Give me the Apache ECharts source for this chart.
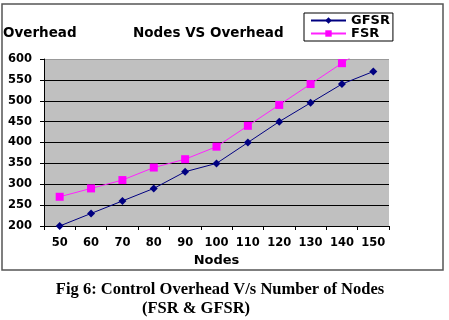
<!DOCTYPE html>
<html>
<head>
<meta charset="utf-8">
<script src="https://cdn.jsdelivr.net/npm/echarts@6/dist/echarts.min.js"></script>
<style>
html,body{margin:0;padding:0;background:#fff;}
#c{width:449px;height:320px;}
</style>
</head>
<body>
<div id="c"></div>
<script>
var nodes = ['50','60','70','80','90','100','110','120','130','140','150'];
var gfsr = [200, 230, 260, 290, 330, 350, 400, 450, 495, 540, 570];
var fsr = [270, 290, 310, 340, 360, 390, 440, 490, 540, 590, 640];
var chartTitle = 'Nodes VS Overhead';
var yName = 'Overhead';
var xName = 'Nodes';
var caption1 = 'Fig 6: Control Overhead V/s Number of Nodes';
var caption2 = '(FSR & GFSR)';

var FONT = 'DejaVu Sans';
var chart = echarts.init(document.getElementById('c'), null, {renderer: 'canvas'});
chart.setOption({
  backgroundColor: '#fff',
  animation: false,
  title: {
    text: chartTitle, left: 133, top: 26, padding: 0,
    textStyle: {fontFamily: FONT, fontWeight: 'bold', fontSize: 13.5, color: '#000'}
  },
  legend: {
    left: 304, top: 13, orient: 'vertical',
    padding: [1, 3, 1, 6], itemGap: 0,
    itemWidth: 35, itemHeight: 8,
    borderColor: '#000', borderWidth: 1,
    textStyle: {fontFamily: FONT, fontWeight: 'bold', fontSize: 13, color: '#000', lineHeight: 12}
  },
  grid: {
    left: 44, right: 60, top: 59, bottom: 94,
    show: true, backgroundColor: '#c0c0c0', borderWidth: 0
  },
  xAxis: {
    type: 'category', data: nodes, boundaryGap: true,
    name: xName, nameLocation: 'middle', nameGap: 26,
    nameTextStyle: {fontFamily: FONT, fontWeight: 'bold', fontSize: 13, color: '#000'},
    axisLine: {lineStyle: {color: '#000', width: 1}},
    axisTick: {show: true, length: 4, alignWithLabel: false, lineStyle: {color: '#000'}},
    axisLabel: {margin: 11, interval: 0, fontFamily: FONT, fontWeight: 'bold', fontSize: 11.5, color: '#000'},
    splitLine: {show: false}
  },
  yAxis: {
    type: 'value', min: 200, max: 600, interval: 50,
    axisLine: {show: true, lineStyle: {color: '#000', width: 1}},
    axisTick: {show: true, length: 4, lineStyle: {color: '#000'}},
    axisLabel: {margin: 12, fontFamily: FONT, fontWeight: 'bold', fontSize: 11.5, color: '#000'},
    splitLine: {show: true, lineStyle: {color: ['#000','#000','#000','#000','#000','#000','#000','#000','#999'], width: 1}}
  },
  series: [
    {
      name: 'GFSR', type: 'line', data: gfsr, clip: true,
      symbol: 'diamond', symbolSize: 8,
      itemStyle: {color: '#000080'},
      lineStyle: {color: '#000080', width: 1}
    },
    {
      name: 'FSR', type: 'line', data: fsr, clip: true,
      symbol: 'rect', symbolSize: 8,
      itemStyle: {color: '#ff00ff'},
      lineStyle: {color: '#ff22ff', width: 1}
    }
  ],
  graphic: [
    {type: 'rect', shape: {x: 2, y: 4, width: 441, height: 266}, style: {fill: null, stroke: '#555', lineWidth: 1.5}, z: -1, silent: true},
    {type: 'text', left: 3, top: 26, style: {text: yName, font: 'bold 13.5px "DejaVu Sans"', fill: '#000'}},
    {type: 'text', x: 220, y: 290, style: {text: caption1, font: 'bold 16.5px "Liberation Serif"', fill: '#000', align: 'center', verticalAlign: 'middle'}},
    {type: 'text', x: 196, y: 309, style: {text: caption2, font: 'bold 16.5px "Liberation Serif"', fill: '#000', align: 'center', verticalAlign: 'middle'}}
  ]
});
</script>
</body>
</html>
